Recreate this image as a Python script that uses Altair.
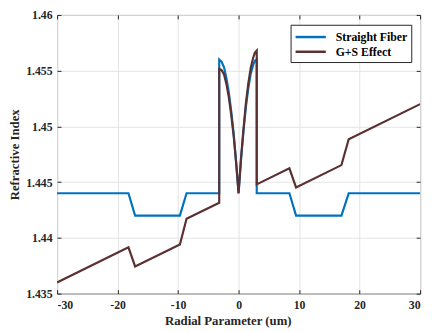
import altair as alt
import pandas as pd

# Radial positions (um)
r_vals = [-30, -18.2, -17.1, -9.7, -8.6, -3.2, -3.2, -2.8, -2.4, -2.0, -1.6, -1.2, -0.8, -0.4,
          0.0, 0.4, 0.8, 1.2, 1.6, 2.0, 2.4, 2.7, 3.0, 3.0, 8.4, 9.5, 17.0, 18.2, 30]
# Straight fiber refractive index
straight = [1.444, 1.444, 1.442, 1.442, 1.444, 1.444, 1.456, 1.4558, 1.4553, 1.4543, 1.4530,
            1.4513, 1.4493, 1.4468, 1.444, 1.4470, 1.4495, 1.4517, 1.4534, 1.4547, 1.4555,
            1.4559, 1.456, 1.444, 1.444, 1.442, 1.442, 1.444, 1.444]
# Bent + strained (G+S effect) refractive index
gs_effect = [1.4360, 1.43915, 1.43744, 1.43941, 1.44171, 1.44315, 1.45515, 1.45505, 1.45466,
             1.45377, 1.45257, 1.45098, 1.44909, 1.44669, 1.444, 1.44711, 1.44971, 1.45202,
             1.45383, 1.45523, 1.45614, 1.45662, 1.4568, 1.4448, 1.44624, 1.44453, 1.44653,
             1.44885, 1.4520]

series_names = ["Straight Fiber", "G+S Effect"]
series_colors = ["#0072BD", "#5A3030"]
x_ticks = [-30, -20, -10, 0, 10, 20, 30]
y_ticks = [1.435, 1.44, 1.445, 1.45, 1.455, 1.46]

rows = []
for i, (r, n) in enumerate(zip(r_vals, straight)):
    rows.append({"r": r, "n": n, "series": series_names[0], "idx": i})
for i, (r, n) in enumerate(zip(r_vals, gs_effect)):
    rows.append({"r": r, "n": n, "series": series_names[1], "idx": i})
df = pd.DataFrame(rows)

FONT = "Liberation Serif"
AX = "#262626"

xscale = alt.Scale(domain=[-30, 30], nice=False)
yscale = alt.Scale(domain=[1.435, 1.46], nice=False, zero=False)
cscale = alt.Scale(domain=series_names, range=series_colors)

legend = alt.Legend(
    title=None, orient="none", legendX=238, legendY=10, direction="vertical",
    fillColor="white", strokeColor=AX, padding=4,
    symbolType="M-2.2,0H2.2", symbolSize=196, symbolStrokeWidth=2.5,
    symbolOffset=8, labelOffset=17,
    labelFont=FONT, labelFontWeight="bold", labelFontSize=12, labelColor="black",
    rowPadding=0,
)

x_bottom = alt.Axis(orient="bottom", values=x_ticks, offset=-4, tickSize=4, domain=False,
                    grid=True, gridColor="#e3e3e3", labelPadding=6,
                    labelExpr="toString(datum.value)", title="Radial Parameter (um)",
                    titlePadding=5, titleX=174)
y_left = alt.Axis(orient="left", values=y_ticks, offset=-4, tickSize=4, domain=False,
                  grid=True, gridColor="#e3e3e3", labelPadding=5, format=".3~f",
                  title="Refractive Index", titlePadding=4)
x_top = alt.Axis(orient="top", values=x_ticks, offset=-4, tickSize=4, domain=False,
                 grid=False, labels=False, title=None)
y_right = alt.Axis(orient="right", values=y_ticks, offset=-4, tickSize=4, domain=False,
                   grid=False, labels=False, title=None)

blue = alt.Chart(df).transform_filter(alt.datum.series == series_names[0]).mark_line(
    strokeWidth=2.2, clip=True
).encode(
    x=alt.X("r:Q", scale=xscale, axis=x_bottom),
    y=alt.Y("n:Q", scale=yscale, axis=y_left),
    color=alt.Color("series:N", scale=cscale, legend=legend),
    order=alt.Order("idx:Q"),
)

brown = alt.Chart(df).transform_filter(alt.datum.series == series_names[1]).mark_line(
    strokeWidth=2.2, clip=True
).encode(
    x=alt.X("r:Q", scale=xscale, axis=x_top),
    y=alt.Y("n:Q", scale=yscale, axis=y_right),
    color=alt.Color("series:N", scale=cscale, legend=legend),
    order=alt.Order("idx:Q"),
)

chart = alt.layer(blue, brown).resolve_axis(x="independent", y="independent").properties(
    width=370, height=284,
    autosize=alt.AutoSizeParams(type="none"),
    padding={"left": 50, "top": 4, "right": 5, "bottom": 34},
).configure(
    background="white", font=FONT
).configure_view(
    stroke=AX, strokeWidth=1
).configure_axis(
    labelFont=FONT, labelFontWeight="bold", labelFontSize=12, labelColor=AX,
    titleFont=FONT, titleFontWeight="bold", titleFontSize=13, titleColor=AX,
    tickColor=AX, tickWidth=1,
).configure_legend(
    labelFont=FONT, labelFontWeight="bold", labelFontSize=12
)

chart.save("out.html", embed_options={"renderer": "svg", "actions": False})
